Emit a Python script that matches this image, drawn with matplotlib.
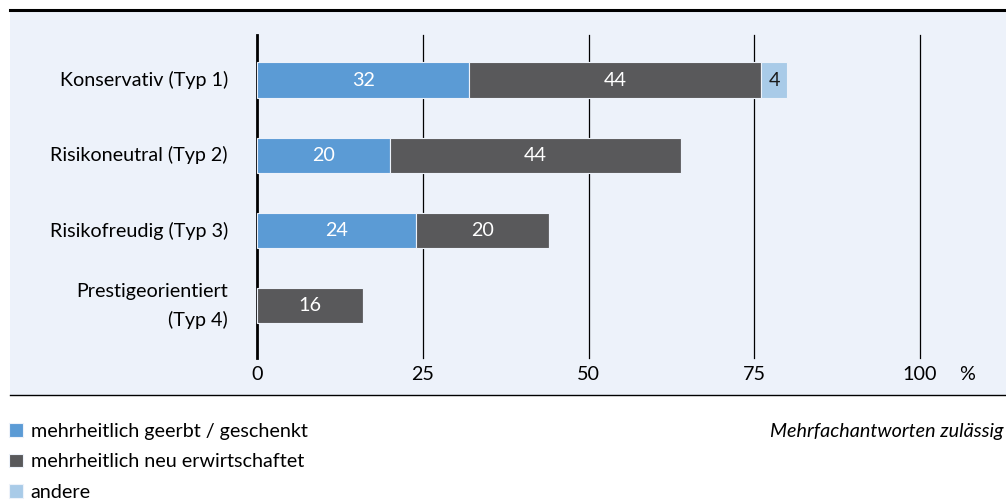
import matplotlib.pyplot as plt
import numpy as np

# Daten
kategorien = ['Konservativ (Typ 1)', 'Risikoneutral (Typ 2)', 'Risikofreudig (Typ 3)', 'Prestigeorientiert\n(Typ 4)']
geerbt = [32, 20, 24, 0]
erwirtschaftet = [44, 44, 20, 16]
andere = [4, 0, 0, 0]
ticks = [0, 25, 50, 75, 100]
serien = ['mehrheitlich geerbt / geschenkt', 'mehrheitlich neu erwirtschaftet', 'andere']

farben = ['#5b9bd5', '#59595b', '#a9cbe8']
textfarben = ['white', 'white', '#1a1a1a']
bg = '#edf2fa'
fs = 14.2

plt.rcParams['font.family'] = ['Lato', 'DejaVu Sans']

fig = plt.figure(figsize=(10.06, 5.01), dpi=100)
W, H = 1006, 501

# Achse = blaues Feld (Pixel 10..1006 x 10..395)
ax = fig.add_axes([10 / W, 1 - 395 / H, 996 / W, 385 / H])
ax.set_facecolor(bg)

px = 6.63  # Pixel pro Prozentpunkt
x0 = 257
ax.set_xlim((10 - x0) / px, (1006 - x0) / px)
ax.set_ylim((395 - 80) / 75.3, (10 - 80) / 75.3)

for s in ['left', 'right']:
    ax.spines[s].set_visible(False)
ax.spines['top'].set_linewidth(2.2)
ax.spines['bottom'].set_linewidth(1.0)
ax.set_xticks([])
ax.set_yticks([])

y = np.arange(len(kategorien))
g_top, g_bot = (35 - 80) / 75.3, (358 - 80) / 75.3

for t in ticks:
    ax.plot([t, t], [g_top, g_bot], color='black', lw=2.0 if t == 0 else 0.9, zorder=1)
    ax.text(t, (375 - 80) / 75.3, str(t), ha='center', va='center', fontsize=fs)
ax.text((967 - x0) / px, (375 - 80) / 75.3, '%', ha='center', va='center', fontsize=fs)

links = np.zeros(len(kategorien))
handles = []
for werte, farbe, tf, name in zip([geerbt, erwirtschaftet, andere], farben, textfarben, serien):
    werte = np.array(werte, dtype=float)
    b = ax.barh(y, werte, left=links, height=0.465, color=farbe, edgecolor=bg,
                linewidth=0.8, zorder=2, label=name)
    handles.append(b)
    for yi, l, w in zip(y, links, werte):
        if w > 0:
            ax.text(l + w / 2, yi, f'{int(w)}', ha='center', va='center', color=tf,
                    fontsize=fs, zorder=3)
    links += werte

for yi, k in zip(y, kategorien):
    ax.text((228 - x0) / px, yi, k, ha='right', va='center', fontsize=fs,
            linespacing=1.7)

leg = fig.legend(handles=handles, loc='upper left', bbox_to_anchor=(9 / W, 1 - 423 / H),
                 frameon=False, fontsize=fs, handlelength=0.7, handleheight=0.7,
                 handletextpad=0.4, labelspacing=0.68, borderpad=0, borderaxespad=0)

fig.text(1003 / W, 1 - 432 / H, 'Mehrfachantworten zulässig', ha='right', va='center',
         fontsize=fs, style='italic')

fig.savefig('out.png', dpi=100, facecolor='white')
